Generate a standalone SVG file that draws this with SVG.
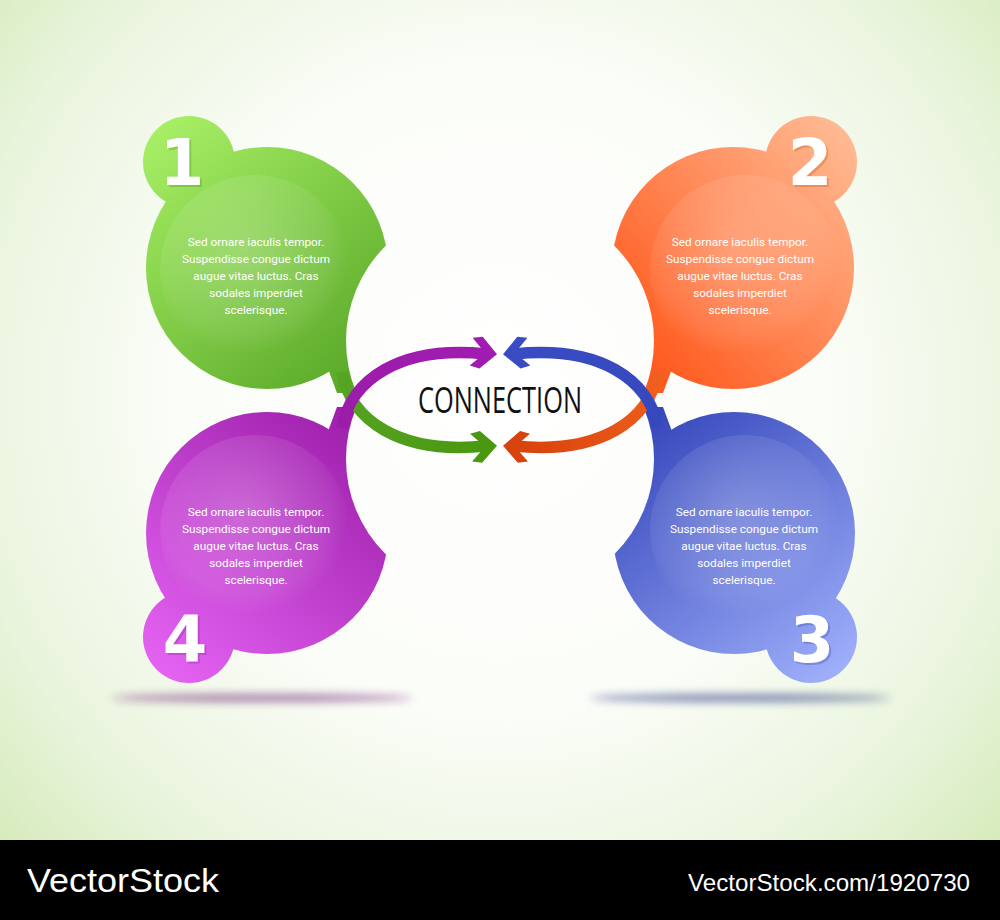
<svg xmlns="http://www.w3.org/2000/svg" width="1000" height="920" viewBox="0 0 1000 920">
<defs>
<style>
.body{font-family:Roboto,"Open Sans","Liberation Sans",sans-serif;font-size:11.8px;fill:#ffffff;text-anchor:middle}
.num{font-family:"DejaVu Sans",sans-serif;font-weight:bold;font-size:64px;fill:#ffffff;text-anchor:middle}
.arc{fill:none;stroke-width:11.5;stroke-linecap:butt}
</style>
<radialGradient id="bg" cx="500" cy="390" r="720" gradientUnits="userSpaceOnUse">
<stop offset="0" stop-color="#ffffff"/>
<stop offset="0.45" stop-color="#fbfdf8"/>
<stop offset="0.75" stop-color="#e9f4dc"/>
<stop offset="1" stop-color="#cfe8b0"/>
</radialGradient>
<linearGradient id="gG" gradientUnits="userSpaceOnUse" x1="160" y1="120" x2="390" y2="390"><stop offset="0" stop-color="#a8f066"/><stop offset="1" stop-color="#52a222"/></linearGradient>
<linearGradient id="gO" gradientUnits="userSpaceOnUse" x1="620" y1="330" x2="860" y2="120"><stop offset="0" stop-color="#ff5a1e"/><stop offset="1" stop-color="#ffc09a"/></linearGradient>
<linearGradient id="gB" gradientUnits="userSpaceOnUse" x1="650" y1="410" x2="860" y2="685"><stop offset="0" stop-color="#3446ba"/><stop offset="1" stop-color="#a6b6ff"/></linearGradient>
<linearGradient id="gP" gradientUnits="userSpaceOnUse" x1="380" y1="410" x2="150" y2="685"><stop offset="0" stop-color="#981aa6"/><stop offset="1" stop-color="#e866f6"/></linearGradient>
<linearGradient id="aG" gradientUnits="userSpaceOnUse" x1="342" y1="370" x2="486" y2="446"><stop offset="0" stop-color="#56a424"/><stop offset="1" stop-color="#4a9810"/></linearGradient>
<linearGradient id="aO" gradientUnits="userSpaceOnUse" x1="658" y1="370" x2="514" y2="446"><stop offset="0" stop-color="#f0601e"/><stop offset="1" stop-color="#d8420c"/></linearGradient>
<linearGradient id="aP" gradientUnits="userSpaceOnUse" x1="342" y1="430" x2="486" y2="354"><stop offset="0" stop-color="#9c1caa"/><stop offset="1" stop-color="#a01cb0"/></linearGradient>
<linearGradient id="aB" gradientUnits="userSpaceOnUse" x1="658" y1="430" x2="514" y2="354"><stop offset="0" stop-color="#3648bc"/><stop offset="1" stop-color="#3a4cc4"/></linearGradient>
<radialGradient id="gloss" cx="0.45" cy="0.4" r="0.55"><stop offset="0" stop-color="#ffffff" stop-opacity="0.22"/><stop offset="0.8" stop-color="#ffffff" stop-opacity="0.08"/><stop offset="1" stop-color="#ffffff" stop-opacity="0"/></radialGradient>
<mask id="m1" maskUnits="userSpaceOnUse" x="0" y="0" width="1000" height="920"><rect width="1000" height="920" fill="#fff"/><circle cx="480" cy="341" r="134" fill="#000"/></mask>
<mask id="m2" maskUnits="userSpaceOnUse" x="0" y="0" width="1000" height="920"><rect width="1000" height="920" fill="#fff"/><circle cx="520" cy="341" r="134" fill="#000"/></mask>
<mask id="m3" maskUnits="userSpaceOnUse" x="0" y="0" width="1000" height="920"><rect width="1000" height="920" fill="#fff"/><circle cx="520" cy="459" r="134" fill="#000"/></mask>
<mask id="m4" maskUnits="userSpaceOnUse" x="0" y="0" width="1000" height="920"><rect width="1000" height="920" fill="#fff"/><circle cx="480" cy="459" r="134" fill="#000"/></mask>
<filter id="blur" x="-20%" y="-200%" width="140%" height="500%"><feGaussianBlur stdDeviation="4"/></filter>
<path id="chev" d="M3,0 L-13,-16 L-23,-14 L-9,0 L-23,14 L-13,16 Z"/>
</defs>

<rect width="1000" height="840" fill="url(#bg)"/>

<ellipse cx="262" cy="698" rx="150" ry="4" fill="#6a1a72" opacity="0.55" filter="url(#blur)"/>
<ellipse cx="740" cy="698" rx="150" ry="4" fill="#1c2c7a" opacity="0.55" filter="url(#blur)"/>

<g id="node1">
<g mask="url(#m1)" fill="url(#gG)">
<circle cx="267" cy="268" r="121"/>
<circle cx="189" cy="162" r="46"/>
<path d="M327,366 L337,393 L356,393 L358,345 Z"/>
</g>
<circle cx="255" cy="270" r="95" fill="url(#gloss)" mask="url(#m1)"/>
<text class="num" x="184" y="187" style="fill:#4f9a20;opacity:0.35">1</text>
<text class="num" x="182" y="185">1</text>
<text class="body" x="256" y="246">Sed ornare iaculis tempor.</text>
<text class="body" x="256" y="263">Suspendisse congue dictum</text>
<text class="body" x="256" y="280">augue vitae luctus. Cras</text>
<text class="body" x="256" y="297">sodales imperdiet</text>
<text class="body" x="256" y="314">scelerisque.</text>
</g>

<g id="node2">
<g mask="url(#m2)" fill="url(#gO)">
<circle cx="733" cy="268" r="121"/>
<circle cx="811" cy="162" r="46"/>
<path d="M673,366 L663,393 L644,393 L642,345 Z"/>
</g>
<circle cx="745" cy="270" r="95" fill="url(#gloss)" mask="url(#m2)"/>
<text class="num" x="812" y="187" style="fill:#d0601e;opacity:0.35">2</text>
<text class="num" x="810" y="185">2</text>
<text class="body" x="740" y="246">Sed ornare iaculis tempor.</text>
<text class="body" x="740" y="263">Suspendisse congue dictum</text>
<text class="body" x="740" y="280">augue vitae luctus. Cras</text>
<text class="body" x="740" y="297">sodales imperdiet</text>
<text class="body" x="740" y="314">scelerisque.</text>
</g>

<g id="node3">
<g mask="url(#m3)" fill="url(#gB)">
<circle cx="734" cy="533" r="121"/>
<circle cx="811" cy="637" r="46"/>
<path d="M673,434 L663,407 L644,407 L642,455 Z"/>
</g>
<circle cx="745" cy="530" r="95" fill="url(#gloss)" mask="url(#m3)"/>
<text class="num" x="814" y="664" style="fill:#4050b0;opacity:0.35">3</text>
<text class="num" x="812" y="662">3</text>
<text class="body" x="744" y="516">Sed ornare iaculis tempor.</text>
<text class="body" x="744" y="533">Suspendisse congue dictum</text>
<text class="body" x="744" y="550">augue vitae luctus. Cras</text>
<text class="body" x="744" y="567">sodales imperdiet</text>
<text class="body" x="744" y="584">scelerisque.</text>
</g>

<g id="node4">
<g mask="url(#m4)" fill="url(#gP)">
<circle cx="267" cy="533" r="121"/>
<circle cx="189" cy="637" r="46"/>
<path d="M327,434 L337,407 L356,407 L358,455 Z"/>
</g>
<circle cx="255" cy="530" r="95" fill="url(#gloss)" mask="url(#m4)"/>
<text class="num" x="187" y="664" style="fill:#9a2aa8;opacity:0.35">4</text>
<text class="num" x="185" y="662">4</text>
<text class="body" x="256" y="516">Sed ornare iaculis tempor.</text>
<text class="body" x="256" y="533">Suspendisse congue dictum</text>
<text class="body" x="256" y="550">augue vitae luctus. Cras</text>
<text class="body" x="256" y="567">sodales imperdiet</text>
<text class="body" x="256" y="584">scelerisque.</text>
</g>

<g id="connectors">
<path class="arc" stroke="url(#aG)" d="M342,372 C350,420 400,455 486,446"/>
<path class="arc" stroke="url(#aO)" d="M658,372 C650,420 600,455 514,446"/>
<path class="arc" stroke="url(#aP)" d="M342,428 C350,380 400,345 486,354"/>
<path class="arc" stroke="url(#aB)" d="M658,428 C650,380 600,345 514,354"/>
<use href="#chev" fill="#4a9810" transform="translate(494,446) rotate(-4)"/>
<use href="#chev" fill="#d8420c" transform="translate(506,446) rotate(184)"/>
<use href="#chev" fill="#a01cb0" transform="translate(494,354) rotate(6)"/>
<use href="#chev" fill="#3a4cc4" transform="translate(506,354) rotate(174)"/>
</g>

<text x="500" y="413" font-family="'Open Sans','Liberation Sans',sans-serif" font-size="36" fill="#111111" text-anchor="middle" textLength="164" lengthAdjust="spacingAndGlyphs">CONNECTION</text>

<rect x="0" y="840" width="1000" height="80" fill="#000000"/>
<text x="27" y="892" font-family="'Liberation Sans',Arial,sans-serif" font-size="34" fill="#ffffff" textLength="192" lengthAdjust="spacingAndGlyphs">VectorStock</text>
<text x="970" y="891" font-family="'Liberation Sans',Arial,sans-serif" font-size="24" fill="#ffffff" text-anchor="end" textLength="282" lengthAdjust="spacingAndGlyphs">VectorStock.com/1920730</text>
</svg>
